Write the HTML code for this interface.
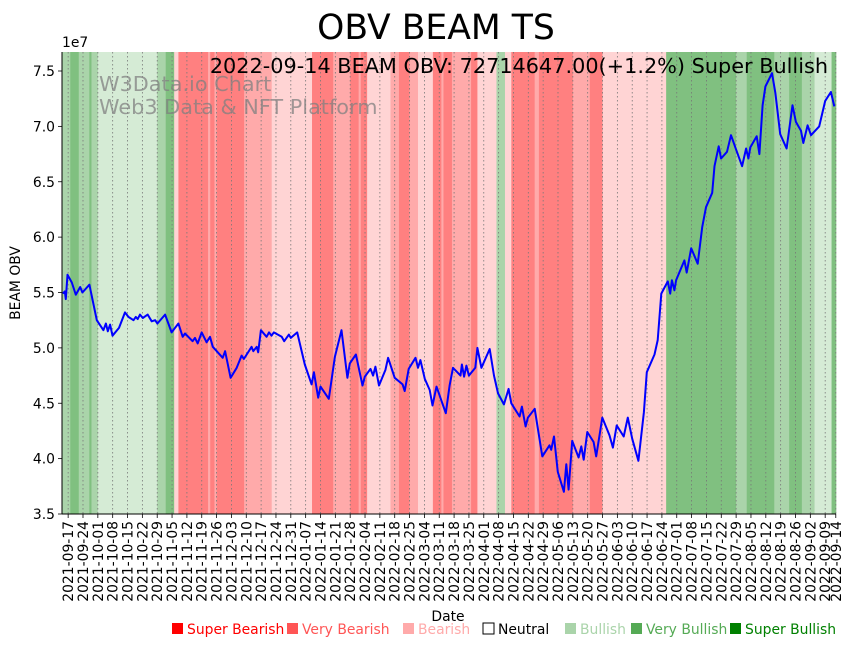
<!DOCTYPE html>
<html><head><meta charset="utf-8"><style>
body{margin:0;background:#fff;}
svg{display:block;font-family:"DejaVu Sans","Liberation Sans",sans-serif;}
</style></head><body>
<svg id="chart" width="855" height="646" viewBox="0 0 855 646" xmlns="http://www.w3.org/2000/svg">
<text x="436" y="39" font-size="34.6" text-anchor="middle">OBV BEAM TS</text>
<g id="bands"></g>
<g id="grid"></g>
<g fill="#808080" fill-opacity="0.75" font-size="20.8">
<text x="99" y="91">W3Data.io Chart</text>
<text x="99" y="114">Web3 Data &amp; NFT Platform</text>
</g>
<text x="828" y="73" font-size="20.8" text-anchor="end">2022-09-14 BEAM OBV: 72714647.00(+1.2%) Super Bullish</text>
<path id="line" fill="none" stroke="#0000ff" stroke-width="2" stroke-linejoin="round"/>
<g id="axes"></g>
<text x="62" y="47" font-size="13.9">1e7</text>
<text transform="translate(20,283) rotate(-90)" font-size="13.9" text-anchor="middle">BEAM OBV</text>
<text x="448" y="621" font-size="13.9" text-anchor="middle">Date</text>
<g id="legend" font-size="13.9"></g>
</svg>
<script>
const bandStarts=[-3,1,5,10,11,14,42,46,50,52,66,67,69,70,83,96,115,125,133,137,138,141,152,156,161,165,172,176,177,181,190,193,202,206,209,220,222,238,246,252,282,315,320,333,340,346,352,360];
const bandLevels=[2,3,2,3,2,1,2,3,-1,-3,-2,-3,-2,-3,-2,-1,-3,-2,-3,-2,-3,-1,-2,-3,-2,-1,-3,-2,-3,-2,-3,-1,2,-1,-3,-2,-3,-2,-3,-1,3,2,3,2,3,2,1,3];
const obvDays=[-2.5,-1.6,-1.1,-0.3,1.7,3.6,5.7,6.7,10.0,13.5,16.6,17.8,18.7,19.8,20.9,24.0,26.8,28.4,30.8,31.9,32.8,33.9,35.2,37.5,39.4,41.0,42.1,45.7,48.8,52.0,54.0,55.1,58.7,59.8,61.1,63.0,65.3,66.9,68.2,72.9,74.0,76.6,79.5,81.8,82.9,86.5,87.3,88.9,89.6,90.9,93.6,94.7,95.9,97.0,100.7,101.9,104.1,105.0,108.0,111.6,114.8,115.9,117.9,119.0,122.9,125.8,128.9,131.7,132.8,135.7,138.8,139.9,142.6,143.8,144.9,146.6,149.6,150.9,154.0,157.7,158.7,160.6,163.8,165.0,166.1,168.2,170.5,171.8,173.7,178.1,179.9,181.5,185.0,185.7,186.7,187.8,189.0,192.0,193.0,194.9,198.8,200.8,202.7,205.5,207.7,209.0,212.9,214.0,215.7,216.8,220.0,223.6,227.0,227.8,229.1,230.9,233.8,234.9,236.0,237.7,240.7,242.0,243.1,244.8,247.8,249.0,251.9,255.3,256.9,258.7,262.0,263.9,266.0,268.9,271.5,272.9,276.5,278.0,279.7,282.8,283.9,284.7,285.9,286.7,290.6,291.7,293.8,296.9,299.0,300.8,303.7,304.8,306.8,307.9,310.7,312.6,315.0,317.8,319.7,320.8,321.7,324.7,326.0,327.5,328.8,331.9,333.5,335.8,338.8,341.6,343.2,345.6,346.7,348.7,350.3,354.2,357.0,359.7,361.3];
const obvValues=[5.49,5.51,5.44,5.66,5.59,5.48,5.55,5.50,5.57,5.25,5.16,5.22,5.15,5.21,5.11,5.18,5.32,5.28,5.25,5.28,5.26,5.30,5.27,5.30,5.24,5.25,5.22,5.30,5.14,5.22,5.10,5.13,5.06,5.09,5.04,5.14,5.05,5.10,5.01,4.91,4.97,4.73,4.82,4.93,4.90,5.01,4.97,5.01,4.96,5.16,5.10,5.14,5.11,5.14,5.10,5.06,5.12,5.09,5.14,4.85,4.67,4.78,4.55,4.65,4.54,4.92,5.16,4.73,4.86,4.94,4.66,4.74,4.81,4.75,4.83,4.66,4.80,4.91,4.73,4.67,4.61,4.81,4.91,4.82,4.89,4.72,4.62,4.48,4.65,4.41,4.66,4.82,4.75,4.85,4.74,4.84,4.75,4.82,5.00,4.82,4.99,4.75,4.59,4.49,4.63,4.50,4.38,4.47,4.29,4.37,4.45,4.02,4.12,4.08,4.20,3.88,3.70,3.95,3.72,4.16,4.01,4.11,3.99,4.24,4.15,4.02,4.37,4.21,4.10,4.30,4.20,4.37,4.18,3.98,4.42,4.78,4.94,5.07,5.49,5.60,5.49,5.61,5.52,5.61,5.79,5.68,5.90,5.76,6.09,6.27,6.40,6.64,6.82,6.71,6.77,6.92,6.79,6.64,6.80,6.71,6.81,6.91,6.75,7.19,7.36,7.48,7.30,6.93,6.80,7.19,7.04,6.96,6.85,7.01,6.92,7.00,7.23,7.31,7.18];
const yTicks=[3.5,4.0,4.5,5.0,5.5,6.0,6.5,7.0,7.5];
const legendLabels=["Super Bearish","Very Bearish","Bearish","Neutral","Bullish","Very Bullish","Super Bullish"];

const NS="http://www.w3.org/2000/svg";
const L=62,R=836,T=52,B=514,D0=-2.9,D1=362.1;
const x=d=>L+(d-D0)/(D1-D0)*(R-L);
const y=v=>514-(v-3.5)/4*443;
const bandColor={"-3":"#ff8080","-2":"#ffaaaa","-1":"#ffd4d4","0":"#ffffff","1":"#d5ebd5","2":"#aad4aa","3":"#80c080"};
function mk(tag,attrs,parent){const e=document.createElementNS(NS,tag);for(const k in attrs)e.setAttribute(k,attrs[k]);parent.appendChild(e);return e;}

const bg=document.getElementById('bands');
for(let i=0;i<bandStarts.length;i++){
  const s=Math.max(bandStarts[i],D0),e=i+1<bandStarts.length?bandStarts[i+1]:D1;
  const r=mk('rect',{x:x(s),y:T,width:x(e)-x(s)+0.3,height:B-T,fill:bandColor[bandLevels[i]]},bg);
  
  
}
const start=new Date(Date.UTC(2021,8,17));
const tickDays=[];for(let d=0;d<=357;d+=7)tickDays.push(d);tickDays.push(362);
const grid=document.getElementById('grid'),axes=document.getElementById('axes');
tickDays.forEach(d=>{
  const px=x(d);
  const g=mk('line',{x1:px,x2:px,y1:T,y2:B,stroke:'#777',"stroke-width":0.8,"stroke-dasharray":"1.5,2.5"},grid);
  
  
  const t=mk('line',{x1:px,x2:px,y1:B,y2:B+4,stroke:'#000',"stroke-width":0.8},axes);
  
  
  const dt=new Date(start.getTime()+d*86400000);
  const lbl=mk('text',{transform:`translate(${px+5},${B+7}) rotate(-90)`,"font-size":13.9,"text-anchor":"end"},axes);
  lbl.textContent=dt.toISOString().slice(0,10);
  
  
});
yTicks.forEach(v=>{
  const py=y(v);
  const t=mk('line',{x1:L-4,x2:L,y1:py,y2:py,stroke:'#000',"stroke-width":0.8},axes);
  
  
  const lbl=mk('text',{x:L-7,y:py+5,"font-size":13.9,"text-anchor":"end"},axes);
  lbl.textContent=v.toFixed(1);
  
  
});
const ls=mk('line',{x1:L,x2:L,y1:T,y2:B,stroke:'#000',"stroke-width":1},axes);


const bs=mk('line',{x1:L,x2:R,y1:B,y2:B,stroke:'#000',"stroke-width":1},axes);



document.getElementById('line').setAttribute('d',obvDays.map((d,i)=>(i?'L':'M')+x(d).toFixed(1)+','+y(obvValues[i]).toFixed(1)).join(''));

const lg=document.getElementById('legend');
const lgX=[171,286,402,482,564,630,729];
const lgFill=["#ff0000","#ff5555","#ffaaaa","none","#aad4aa","#55aa55","#008000"];
const lgText=["#ff0000","#ff5555","#ffaaaa","#000000","#aad4aa","#55aa55","#008000"];
legendLabels.forEach((s,i)=>{
  const g=mk('g',{},lg);
  
  
  mk('rect',{x:lgX[i]+1,y:623,width:11,height:11,fill:lgFill[i],stroke:lgFill[i]==='none'?'#000':'none',"stroke-width":1},g);
  const t=mk('text',{x:lgX[i]+16,y:634,fill:lgText[i]},g);
  t.textContent=s;
});
</script>
</body></html>
